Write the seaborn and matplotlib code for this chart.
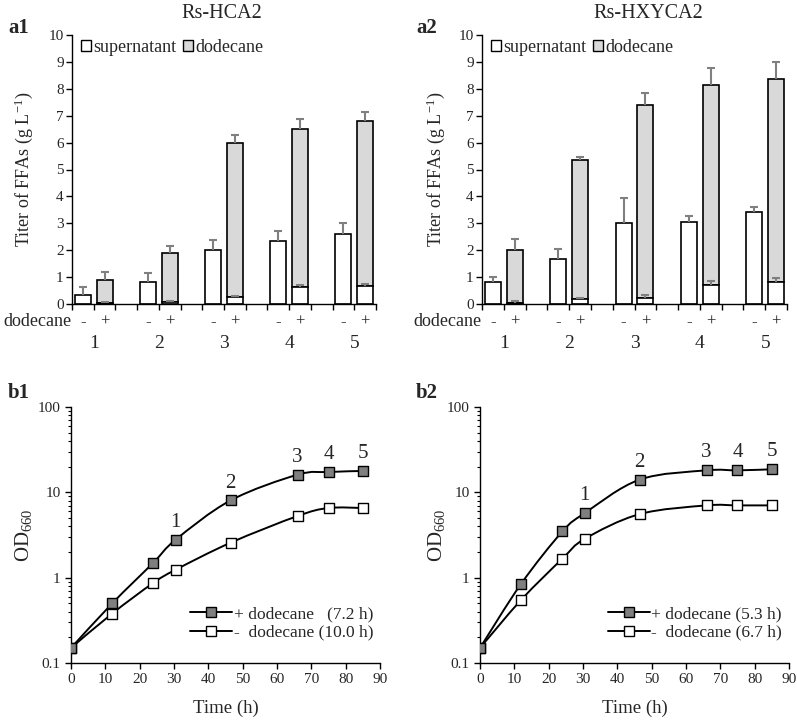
import numpy as np
import seaborn as sns
import matplotlib.pyplot as plt
from matplotlib.path import Path
from matplotlib.patches import PathPatch, Patch
from matplotlib.lines import Line2D

# ---- titer data (g/L), sampling points 1..5 ----
groups = [1, 2, 3, 4, 5]

hca_minus = [0.35, 0.83, 2.00, 2.34, 2.59]
hca_minus_err = [0.27, 0.31, 0.38, 0.36, 0.41]
hca_plus_sup = [0.04, 0.06, 0.25, 0.64, 0.68]
hca_plus_sup_err = [0.04, 0.04, 0.05, 0.06, 0.07]
hca_plus_dod = [0.85, 1.82, 5.72, 5.88, 6.12]
hca_plus_dod_err = [0.29, 0.28, 0.33, 0.34, 0.35]

hxy_minus = [0.82, 1.67, 3.01, 3.06, 3.41]
hxy_minus_err = [0.20, 0.39, 0.94, 0.21, 0.18]
hxy_plus_sup = [0.04, 0.20, 0.22, 0.72, 0.83]
hxy_plus_sup_err = [0.08, 0.04, 0.10, 0.13, 0.15]
hxy_plus_dod = [1.96, 5.17, 7.17, 7.42, 7.55]
hxy_plus_dod_err = [0.40, 0.11, 0.47, 0.62, 0.62]

# ---- growth data (OD660) ----
time_h = [0, 12, 24, 30.5, 46.5, 66, 75, 85]
hca_od_plus = [0.15, 0.50, 1.50, 2.79, 8.05, 16.1, 17.3, 17.8]
hca_od_minus = [0.15, 0.38, 0.87, 1.24, 2.57, 5.28, 6.55, 6.55]
hxy_od_plus = [0.15, 0.85, 3.48, 5.7, 14.1, 18.1, 18.1, 18.6]
hxy_od_minus = [0.15, 0.55, 1.67, 2.85, 5.56, 7.03, 7.03, 7.03]
sample_idx = [3, 4, 5, 6, 7]

sns.set_style('ticks')
plt.rcParams['font.family'] = ['Liberation Serif', 'DejaVu Serif']
plt.rcParams['mathtext.fontset'] = 'custom'
plt.rcParams['mathtext.rm'] = 'Liberation Serif'
plt.rcParams['mathtext.it'] = 'Liberation Serif:italic'
plt.rcParams['axes.edgecolor'] = 'black'
plt.rcParams['axes.linewidth'] = 1.0

W, H = 797, 721
fig = plt.figure(figsize=(W / 100, H / 100), dpi=100)


def rect(l, t, r, b):
    return [l / W, 1 - b / H, (r - l) / W, (b - t) / H]


ax_a1 = fig.add_axes(rect(72, 35, 376, 304))
ax_a2 = fig.add_axes(rect(482, 35, 787, 304))
ax_b1 = fig.add_axes(rect(71, 407, 380, 663))
ax_b2 = fig.add_axes(rect(480, 407, 789, 663))

GRAY_BAR = '#d9d9d9'
ERR = '#808080'


def errbars(ax, x, y, e):
    eb = ax.errorbar(x, y, yerr=[np.zeros(len(e)), e], fmt='none', ecolor=ERR,
                     elinewidth=1.5, capsize=2.6, capthick=1.5, zorder=4)
    eb[1][0].set_visible(False)


def titer_panel(ax, minus, minus_err, sup, sup_err, dod, dod_err, ylab_x):
    g = np.arange(len(groups))
    x_minus = 3 * g + 0.5
    x_plus = 3 * g + 1.5
    sup = np.array(sup)
    dod = np.array(dod)
    w = 0.74
    ax.bar(x_minus, minus, width=w, color='white', edgecolor='black', linewidth=1.2, zorder=2)
    ax.bar(x_plus, dod, bottom=sup, width=w, color=GRAY_BAR, edgecolor='black', linewidth=1.2, zorder=2)
    ax.bar(x_plus, sup, width=w, color='white', edgecolor='black', linewidth=1.2, zorder=2)
    errbars(ax, x_minus, minus, minus_err)
    errbars(ax, x_plus, sup + dod, dod_err)
    errbars(ax, x_plus, sup, sup_err)

    ax.set_xlim(0, 14)
    ax.set_ylim(0, 10)
    ax.set_yticks(range(0, 11))
    ax.set_xticks(range(0, 15))
    ax.set_xticklabels([])
    ax.tick_params(axis='both', direction='out', length=4, width=1, labelsize=11, color='black')
    ax.tick_params(axis='y', pad=2)
    sns.despine(ax=ax)
    ax.set_ylabel('Titer of FFAs (g $\\mathregular{L^{-1}}$)', fontsize=13)
    ax.yaxis.set_label_coords(ylab_x, 0.5)

    tr = ax.get_xaxis_transform()
    ax.text(-0.003, -0.066, 'dodecane', transform=ax.transAxes, ha='right', va='center', fontsize=13)
    for i in g:
        ax.text(x_minus[i], -0.066, '-', transform=tr, ha='center', va='center', fontsize=12)
        ax.text(x_plus[i], -0.066, '+', transform=tr, ha='center', va='center', fontsize=12)
        ax.text(3 * i + 1, -0.147, str(groups[i]), transform=tr, ha='center', va='center', fontsize=14)

    handles = [Patch(facecolor='white', edgecolor='black', linewidth=1.0),
               Patch(facecolor=GRAY_BAR, edgecolor='black', linewidth=1.0)]
    ax.legend(handles, ['supernatant', 'dodecane'], loc='upper left', bbox_to_anchor=(0.0, 1.02),
              ncol=2, frameon=False, fontsize=13, handlelength=0.55, handleheight=0.55,
              handletextpad=0.15, columnspacing=0.35, borderaxespad=0.1)


def smooth_line(ax, x, y):
    # Excel-like smoothed line: cubic Bezier through the points in (x, log y) space
    P = np.column_stack([np.asarray(x, float), np.log10(y)])
    n = len(P)
    verts = [P[0]]
    codes = [Path.MOVETO]
    for i in range(n - 1):
        p0 = P[i - 1] if i > 0 else P[i]
        p3 = P[i + 2] if i + 2 < n else P[i + 1]
        verts += [P[i] + (P[i + 1] - p0) / 6, P[i + 1] - (p3 - P[i]) / 6, P[i + 1]]
        codes += [Path.CURVE4] * 3
    verts = np.array(verts)
    verts[:, 1] = 10 ** verts[:, 1]
    ax.add_patch(PathPatch(Path(verts, codes), fill=False, edgecolor='black', linewidth=1.4, zorder=2))


def growth_panel(ax, od_plus, od_minus, lab_plus, lab_minus, ylab_x):
    smooth_line(ax, time_h, od_plus)
    smooth_line(ax, time_h, od_minus)
    sns.scatterplot(x=time_h, y=od_minus, marker='s', s=55, color='white', edgecolor='black',
                    linewidth=1.0, zorder=3, ax=ax)
    sns.scatterplot(x=time_h, y=od_plus, marker='s', s=55, color='#7f7f7f', edgecolor='black',
                    linewidth=1.0, zorder=3, ax=ax)
    ax.set_yscale('log')
    ax.set_ylim(0.1, 100)
    ax.set_xlim(0, 90)
    ax.set_xticks(range(0, 91, 10))
    ax.set_yticks([0.1, 1, 10, 100], labels=['0.1', '1', '10', '100'])
    ax.yaxis.set_minor_formatter(plt.NullFormatter())
    ax.tick_params(axis='both', which='major', direction='out', length=4, width=1,
                   labelsize=11, color='black')
    ax.tick_params(axis='y', which='minor', direction='out', length=2.5, width=0.8, color='black')
    sns.despine(ax=ax)
    for k, i in enumerate(sample_idx):
        ax.annotate(str(k + 1), (time_h[i], od_plus[i]), xytext=(0, 12.5), textcoords='offset points',
                    ha='center', va='center', fontsize=15)
    ax.set_ylabel('OD$_{660}$', fontsize=15)
    ax.yaxis.set_label_coords(ylab_x, 0.5)
    ax.set_xlabel('Time (h)', fontsize=13.5)
    ax.xaxis.set_label_coords(0.5, -0.145)
    handles = [Line2D([], [], color='black', lw=1.4, marker='s', markersize=7.5,
                      markerfacecolor='#7f7f7f', markeredgecolor='black'),
               Line2D([], [], color='black', lw=1.4, marker='s', markersize=7.5,
                      markerfacecolor='white', markeredgecolor='black')]
    ax.legend(handles, [lab_plus, lab_minus], loc='lower right', bbox_to_anchor=(1.0, 0.06),
              frameon=False, fontsize=12.5, handlelength=2.4, handletextpad=0.1,
              labelspacing=0.15, borderaxespad=0.0)


titer_panel(ax_a1, hca_minus, hca_minus_err, hca_plus_sup, hca_plus_sup_err,
            hca_plus_dod, hca_plus_dod_err, -0.122)
titer_panel(ax_a2, hxy_minus, hxy_minus_err, hxy_plus_sup, hxy_plus_sup_err,
            hxy_plus_dod, hxy_plus_dod_err, -0.115)
growth_panel(ax_b1, hca_od_plus, hca_od_minus, '+ dodecane   (7.2 h)', '-  dodecane (10.0 h)', -0.12)
growth_panel(ax_b2, hxy_od_plus, hxy_od_minus, '+ dodecane (5.3 h)', '-  dodecane (6.7 h)', -0.107)

fig.text(222 / W, 1 - 13 / H, 'Rs-HCA2', ha='center', va='center', fontsize=14.5)
fig.text(648 / W, 1 - 13 / H, 'Rs-HXYCA2', ha='center', va='center', fontsize=14.5)
for tag, x, y in [('a1', 8, 28), ('a2', 416, 28), ('b1', 8, 393), ('b2', 416, 393)]:
    fig.text(x / W, 1 - y / H, tag, ha='left', va='center', fontsize=15, fontweight='bold')

fig.savefig('out.png', dpi=100)
